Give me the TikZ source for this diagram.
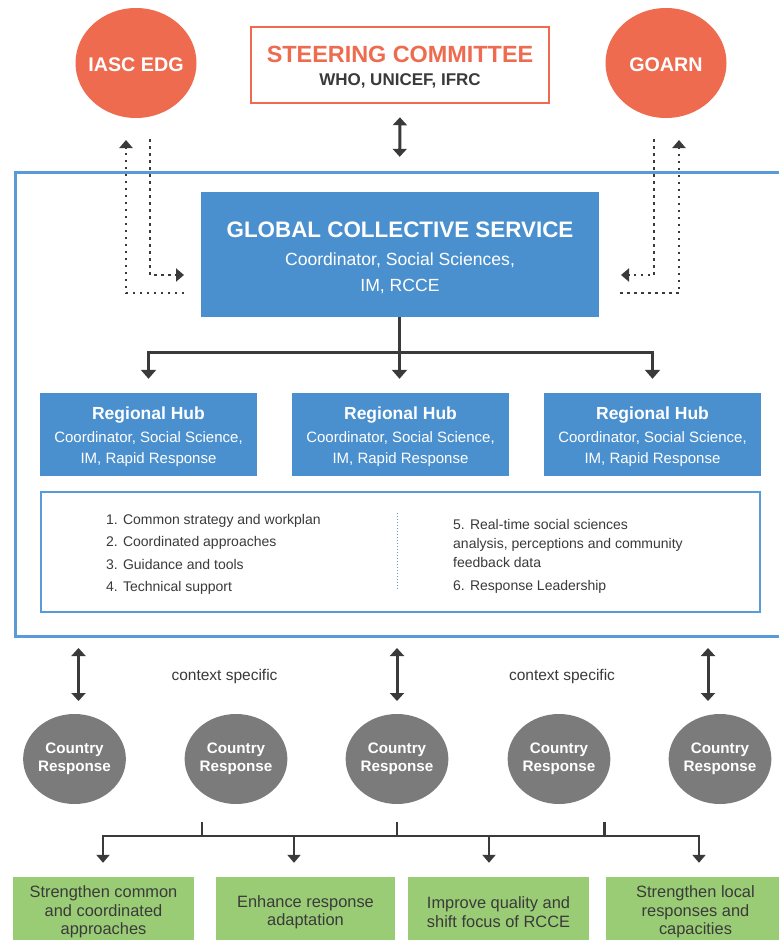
\documentclass[tikz,border=0pt]{standalone}
\usepackage{fontspec}
\setmainfont{Liberation Sans}
\usetikzlibrary{arrows.meta,shapes.geometric}
\definecolor{orng}{HTML}{EE6B4F}
\definecolor{gblue}{HTML}{4A90CF}
\definecolor{fblue}{HTML}{5A9AD6}
\definecolor{cgray}{HTML}{7B7B7B}
\definecolor{lgreen}{HTML}{9ACC76}
\definecolor{dk}{HTML}{3A3A3A}
\newcommand\myfs[2]{\fontsize{#1}{#2}\selectfont}
\begin{document}
\begin{tikzpicture}[x=1pt,y=-1pt,
 txt/.style={inner sep=0pt, anchor=base},
 ltxt/.style={inner sep=0pt, anchor=base west, text=dk, font=\myfs{14}{17}},
 arr/.style={draw=dk, line width=3.2pt, -{Triangle[width=15pt,length=9pt]}},
 barr/.style={draw=dk, line width=2.4pt, -{Triangle[width=13pt,length=8pt]}},
 darr/.style={draw=dk, line width=3pt, {Triangle[width=14pt,length=8pt]}-{Triangle[width=14pt,length=8pt]}},
 ln/.style={draw=dk, line width=2.4pt},
 dotarr/.style={draw=dk, line width=2.5pt, dash pattern=on 2.5pt off 4.5pt, -{Triangle[width=13pt,length=8pt]}},
 hub/.style={fill=gblue, minimum width=217pt, minimum height=83pt, inner sep=0pt},
 cr/.style={ellipse, fill=cgray, minimum width=100pt, minimum height=90pt, inner sep=0pt, text=white, align=center, font=\bfseries\myfs{15.2}{18}},
 gbox/.style={fill=lgreen, minimum height=70pt, inner sep=0pt, align=center, text=dk, font=\myfs{16.4}{18.5}},
 orb/.style={ellipse, fill=orng, minimum width=121pt, minimum height=110pt, inner sep=0pt, text=white, font=\bfseries\myfs{19.7}{22}}
]
\useasboundingbox (0,0) rectangle (779,940);
\fill[white] (0,0) rectangle (779,940);

% top row
\node[orb] (iasc) at (136,63) {};
\node[txt, text=white, font=\bfseries\myfs{19.7}{22}] (iasct) at (136,71) {IASC EDG};
\node[orb] (goarn) at (666,63) {};
\node[txt, text=white, font=\bfseries\myfs{19.7}{22}] (goarnt) at (666,71) {GOARN};
\node[draw=orng, line width=2.5pt, minimum width=298pt, minimum height=76pt, inner sep=0pt] (steer) at (400,65) {};
\node[txt, text=orng, font=\bfseries\myfs{23.4}{26}] (steert) at (400,62) {STEERING COMMITTEE};
\node[txt, text=dk, font=\bfseries\myfs{17}{20}] (steers) at (400,85) {WHO, UNICEF, IFRC};

% frame
\node[draw=fblue, line width=3pt, minimum width=776pt, minimum height=464pt, inner sep=0pt, anchor=north west] (frame) at (14,171) {};

% global collective service
\node[fill=gblue, minimum width=398pt, minimum height=125pt, inner sep=0pt] (gcs) at (399.5,254.5) {};
\node[txt, text=white, font=\bfseries\myfs{22.4}{26}] (gcst) at (400,237) {GLOBAL COLLECTIVE SERVICE};
\node[txt, text=white, font=\myfs{17.6}{20}] (gcss) at (400,265) {Coordinator, Social Sciences,};
\node[txt, text=white, font=\myfs{17.6}{20}] (gcsr) at (400,291) {IM, RCCE};

\draw[darr, shorten <=13pt, shorten >=35pt] (steer.south) -- (gcs.north);

% dotted links
\coordinate (dlA) at (184,293); \coordinate (dlB) at (126,140);
\coordinate (dlC) at (150,139); \coordinate (dlD) at (184,275);
\coordinate (drA) at (620,293); \coordinate (drB) at (679,140);
\coordinate (drC) at (654,139); \coordinate (drD) at (621,275);
\draw[dotarr] (dlA) -| (dlB);
\draw[dotarr] (dlC) |- (dlD);
\draw[dotarr] (drA) -| (drB);
\draw[dotarr] (drC) |- (drD);

% hubs
\foreach \i/\x in {1/148.5,2/400.5,3/652.5} {
 \node[hub] (hub\i) at (\x,434.5) {};
 \node[txt, text=white, font=\bfseries\myfs{17.5}{20}] (hubt\i) at (\x,419) {Regional Hub};
 \node[txt, text=white, font=\myfs{15}{18}] (hubs\i) at (\x,442) {Coordinator, Social Science,};
 \node[txt, text=white, font=\myfs{15}{18}] (hubr\i) at (\x,463) {IM, Rapid Response};
}
\draw[arr, shorten >=14pt] (gcs.south) -- (gcs.south |- hub2.north);
\draw[arr, shorten >=14pt] (gcs.south) -- ++(0,35) -| (hub1.north);
\draw[arr, shorten >=14pt] (gcs.south) -- ++(0,35) -| (hub3.north);

% list box
\node[draw=fblue, line width=2.5pt, minimum width=719pt, minimum height=120pt, inner sep=0pt] (list) at (400.5,552) {};
\coordinate (sepA) at (397,513); \coordinate (sepB) at (397,590);
\draw[fblue, line width=1pt, dash pattern=on 1pt off 2pt] (sepA) -- (sepB);
\node[ltxt] (l1) at (106,524) {1. Common strategy and workplan};
\node[ltxt] (l2) at (106,546.5) {2. Coordinated approaches};
\node[ltxt] (l3) at (106,569) {3. Guidance and tools};
\node[ltxt] (l4) at (106,591.5) {4. Technical support};
\node[ltxt] (l5) at (453,529) {5. Real-time social sciences};
\node[ltxt] (l5b) at (453,548) {analysis, perceptions and community};
\node[ltxt] (l5c) at (453,567) {feedback data};
\node[ltxt] (l6) at (453,590) {6. Response Leadership};

% country responses
\foreach \i/\x in {1/74.5,2/236,3/397,4/559,5/720} {
 \node[cr] (cr\i) at (\x,759) {Country\\Response};
}
\coordinate (u1) at (78.5,648); \coordinate (v1) at (78.5,701);
\coordinate (u2) at (397,648); \coordinate (v2) at (397,701);
\coordinate (u3) at (708,648); \coordinate (v3) at (708,701);
\draw[darr] (u1) -- (v1);
\draw[darr] (u2) -- (v2);
\draw[darr] (u3) -- (v3);
\node[txt, text=dk, font=\myfs{15.5}{18}] (cs1) at (224.5,680) {context specific};
\node[txt, text=dk, font=\myfs{15.5}{18}] (cs2) at (562,680) {context specific};

% outcome boxes
\node[gbox, minimum width=181pt] (g1) at (103.5,912) {Strengthen common\\and coordinated\\approaches};
\node[gbox, minimum width=179pt] (g2) at (305.5,912) {Enhance response\\adaptation};
\node[gbox, minimum width=181pt] (g3) at (498.5,912) {Improve quality and\\shift focus of RCCE};
\node[gbox, minimum width=179pt] (g4) at (695.5,912) {Strengthen local\\responses and\\capacities};

% bottom tree
\coordinate (t1) at (202,822); \coordinate (t2) at (397,822); \coordinate (t3) at (604.5,822);
\coordinate (b1) at (103,836); \coordinate (b2) at (294,836); \coordinate (b3) at (489,836); \coordinate (b4) at (699,836);
\draw[ln] (t1) -- (t1 |- b1);
\draw[ln] (t2) -- (t2 |- b1);
\draw[ln] (t3) -- (t3 |- b1);
\draw[ln, line cap=rect] (b1) -- (b4);
\draw[barr, shorten >=14pt] (b1) -- (b1 |- g1.north);
\draw[barr, shorten >=14pt] (b2) -- (b2 |- g2.north);
\draw[barr, shorten >=14pt] (b3) -- (b3 |- g3.north);
\draw[barr, shorten >=14pt] (b4) -- (b4 |- g4.north);
\end{tikzpicture}
\end{document}
